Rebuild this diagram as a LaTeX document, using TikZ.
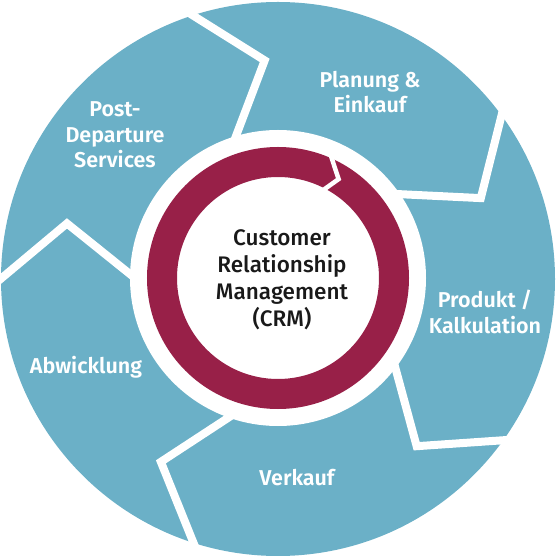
\documentclass[tikz,border=0pt]{standalone}
\usepackage{fontspec}
\setmainfont{Fira Sans}[BoldFont={Fira Sans SemiBold}]
\newfontfamily\crmfont{Fira Sans Medium}
\usetikzlibrary{calc}
\definecolor{segblue}{RGB}{107,176,199}
\definecolor{crmred}{RGB}{152,32,72}
\begin{document}
\begin{tikzpicture}[x=1pt,y=1pt,
  seglabel/.style={text=white,font=\fontsize{21.5}{25.5}\selectfont\bfseries,align=center,inner sep=0pt},
  centerlabel/.style={text=black!90,font=\fontsize{22.5}{27}\selectfont\crmfont,align=center,inner sep=0pt},
  gapline/.style={white,line width=8pt,miter limit=20,line join=miter},
  arrowgap/.style={white,line width=4.5pt,miter limit=20,line join=miter}]
\useasboundingbox (-278,-278) rectangle (278,278);
\fill[segblue] (0,-1) circle (277);
\foreach \t in {106.5,34.5,-37.5,-109.5,178.5}{
  \coordinate (v) at (\t-13:218);
  \coordinate (i) at (\t:148);
  \coordinate (o) at (\t+1.8:278);
  \draw[gapline] ($(v)!1.3!(i)$) -- (v) -- ($(v)!1.5!(o)$);
}
\fill[white] (0,0) circle (148);
\fill[crmred,even odd rule] (0,0) circle (131) (0,0) circle (101);
\coordinate (ga) at (68:137);
\coordinate (gb) at (58.5:116);
\coordinate (gc) at (64:95);
\draw[arrowgap] (ga) -- (gb) -- (gc);
\node[centerlabel] (crm) at (4,-2) {Customer\\Relationship\\Management\\(CRM)};
\node[seglabel] (planung) at (92,186) {Planung \&\\Einkauf};
\node[seglabel] (post) at (-163,143) {Post-\\Departure\\Services};
\node[seglabel] (produkt) at (207,-34) {Produkt /\\Kalkulation};
\node[seglabel] (verkauf) at (19,-200) {Verkauf};
\node[seglabel] (abwicklung) at (-192,-89) {Abwicklung};
\end{tikzpicture}
\end{document}
